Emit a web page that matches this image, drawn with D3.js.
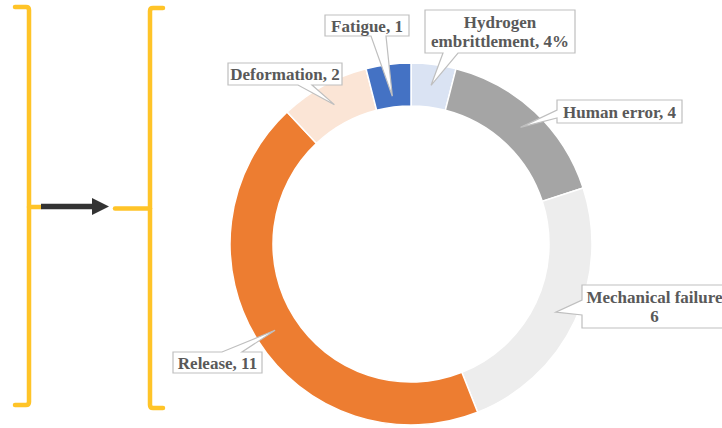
<!DOCTYPE html>
<html>
<head>
<meta charset="utf-8">
<script src="https://cdn.jsdelivr.net/npm/d3@7"></script>
<style>
  html, body { margin: 0; padding: 0; background: #fff; }
  svg { display: block; }
</style>
</head>
<body>
<svg id="chart" width="722" height="428"></svg>
<script>
// failure causes, clockwise from 12 o'clock
const causes = ["Hydrogen embrittlement", "Human error", "Mechanical failure", "Release", "Deformation", "Fatigue"];
const counts = [1, 4, 6, 11, 2, 1];
const labelLines = [
  ["Hydrogen", "embrittlement, 4%"],
  ["Human error, 4"],
  ["Mechanical failure", "6"],
  ["Release, 11"],
  ["Deformation, 2"],
  ["Fatigue, 1"],
];
const colors = ["#dae3f3", "#a5a5a5", "#ededed", "#ed7d31", "#fbe5d6", "#4472c4"];

// callout boxes (layout only): box rect, side the pointer leaves from, pointer base span, tip radius
const callouts = [
  { x: 425, y: 10, w: 150, h: 43, side: "bottom", b0: 443, b1: 458, tipR: 160 },
  { x: 557, y: 100, w: 125, h: 23, side: "left", b0: 110, b1: 118, tipR: 160 },
  { x: 582, y: 285, w: 145, h: 43, side: "left", b0: 300, b1: 315, tipR: 160 },
  { x: 173, y: 352, w: 89, h: 21, side: "top", b0: 222, b1: 242, tipR: 161 },
  { x: 228, y: 63, w: 114, h: 22, side: "bottom", b0: 298, b1: 312, tipR: 159 },
  { x: 325, y: 15, w: 84, h: 21, side: "bottom", b0: 371, b1: 386, tipR: 149 },
];

const W = 722, H = 428;
const cx = 411, cy = 244, rOuter = 181, rInner = 138;
const YELLOW = "#ffc428", INK = "#595959";

const svg = d3.select("#chart");

// ---- left brackets + arrow
const gDeco = svg.append("g");
const brackets = [
  "M15,7 L26,7 Q29,7 29,10 L29,402 Q29,405 26,405 L15,405",
  "M163,8 L153,8 Q150,8 150,11 L150,405 Q150,408 153,408 L163,408",
  "M29,207 L41,207",
  "M115,208.5 L150,208.5",
];
gDeco.selectAll("path.br").data(brackets).join("path")
  .attr("class", "br")
  .attr("d", (d) => d)
  .attr("fill", "none")
  .attr("stroke", YELLOW)
  .attr("stroke-width", 4.5)
  .attr("stroke-linecap", "round")
  .attr("stroke-linejoin", "round");
gDeco.append("line")
  .attr("x1", 41).attr("x2", 94).attr("y1", 206.5).attr("y2", 206.5)
  .attr("stroke", "#333").attr("stroke-width", 5.5);
gDeco.append("path")
  .attr("d", "M92,198 L109,206.5 L92,215 Z")
  .attr("fill", "#333");

// ---- donut
const pie = d3.pie().sort(null).value((d) => d)(counts);
const arc = d3.arc().innerRadius(rInner).outerRadius(rOuter);

const gPie = svg.append("g").attr("transform", `translate(${cx},${cy})`);
gPie.selectAll("path").data(pie).join("path")
  .attr("d", arc)
  .attr("fill", (d, i) => colors[i])
  .attr("stroke", "#fff")
  .attr("stroke-width", 1.5);

// ---- callouts
function calloutPath(c, tip) {
  const x0 = c.x, y0 = c.y, x1 = c.x + c.w, y1 = c.y + c.h;
  const [tx, ty] = tip;
  if (c.side === "bottom")
    return `M${x0},${y0} L${x1},${y0} L${x1},${y1} L${c.b1},${y1} L${tx},${ty} L${c.b0},${y1} L${x0},${y1} Z`;
  if (c.side === "top")
    return `M${x0},${y0} L${c.b0},${y0} L${tx},${ty} L${c.b1},${y0} L${x1},${y0} L${x1},${y1} L${x0},${y1} Z`;
  // left
  return `M${x0},${y0} L${x1},${y0} L${x1},${y1} L${x0},${y1} L${x0},${c.b1} L${tx},${ty} L${x0},${c.b0} Z`;
}

const gLab = svg.append("g");
pie.forEach((d, i) => {
  const c = callouts[i];
  const a = (d.startAngle + d.endAngle) / 2;
  const tip = [cx + c.tipR * Math.sin(a), cy - c.tipR * Math.cos(a)];
  const g = gLab.append("g");
  g.append("path")
    .attr("d", calloutPath(c, tip))
    .attr("fill", "#fff")
    .attr("stroke", "#bfbfbf")
    .attr("stroke-width", 1.2)
    .attr("stroke-linejoin", "miter");
  const lines = labelLines[i];
  const lh = 19.5;
  const midY = c.y + c.h / 2;
  g.append("text")
    .attr("x", c.x + c.w / 2)
    .attr("text-anchor", "middle")
    .attr("font-family", "'Liberation Serif', 'Times New Roman', serif")
    .attr("font-weight", "bold")
    .attr("font-size", 17)
    .attr("fill", INK)
    .selectAll("tspan").data(lines).join("tspan")
    .attr("x", c.x + c.w / 2)
    .attr("y", (t, k) => midY + (k - (lines.length - 1) / 2) * lh + 6)
    .text((t) => t);
});
</script>
</body>
</html>
